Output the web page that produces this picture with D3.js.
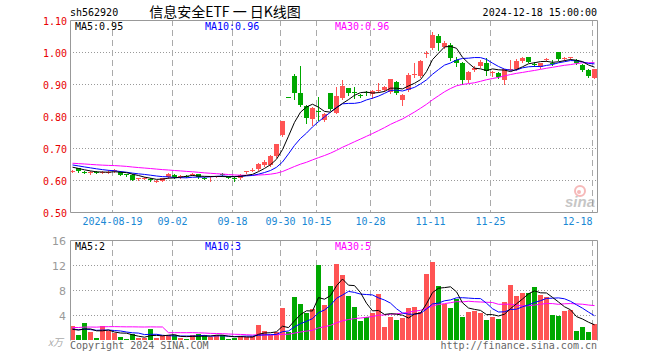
<!DOCTYPE html>
<html lang="zh">
<head>
<meta charset="utf-8">
<title>sh562920 日K线图</title>
<script src="https://cdn.jsdelivr.net/npm/d3@7/dist/d3.min.js"></script>
<style>
body { margin: 0; background: #fff; }
svg text { font-family: "DejaVu Sans Mono", monospace; font-size: 10px; }
.grid-h { stroke: #999; stroke-dasharray: 1,2; }
.grid-v { stroke: #aaa; stroke-dasharray: 6,4; }
.frame { stroke: #999; fill: none; }
</style>
</head>
<body>
<div id="chart"></div>
<script>
"use strict";

// trading days shown
var dates = [
  "2024-08-08","2024-08-09","2024-08-12","2024-08-13","2024-08-14","2024-08-15","2024-08-16",
  "2024-08-19","2024-08-20","2024-08-21","2024-08-22","2024-08-23",
  "2024-08-26","2024-08-27","2024-08-28","2024-08-29","2024-08-30",
  "2024-09-02","2024-09-03","2024-09-04","2024-09-05","2024-09-06",
  "2024-09-09","2024-09-10","2024-09-11","2024-09-12","2024-09-13",
  "2024-09-18","2024-09-19","2024-09-20",
  "2024-09-23","2024-09-24","2024-09-25","2024-09-26","2024-09-27",
  "2024-09-30",
  "2024-10-08","2024-10-09","2024-10-10","2024-10-11",
  "2024-10-14","2024-10-15","2024-10-16","2024-10-17","2024-10-18",
  "2024-10-21","2024-10-22","2024-10-23","2024-10-24","2024-10-25",
  "2024-10-28","2024-10-29","2024-10-30","2024-10-31","2024-11-01",
  "2024-11-04","2024-11-05","2024-11-06","2024-11-07","2024-11-08",
  "2024-11-11","2024-11-12","2024-11-13","2024-11-14","2024-11-15",
  "2024-11-18","2024-11-19","2024-11-20","2024-11-21","2024-11-22",
  "2024-11-25","2024-11-26","2024-11-27","2024-11-28","2024-11-29",
  "2024-12-02","2024-12-03","2024-12-04","2024-12-05","2024-12-06",
  "2024-12-09","2024-12-10","2024-12-11","2024-12-12","2024-12-13",
  "2024-12-16","2024-12-17","2024-12-18"
];

var open = [
  .626,.636,.626,.622,.626,.623,.624,.628,.625,.618,
  .616,.602,.604,.603,.595,.598,.608,.617,.608,.613,
  .617,.618,.607,.609,.610,.619,.609,.607,.605,.624,
  .629,.634,.648,.648,.676,.741,.860,.925,.873,.831,
  .790,.816,.788,.871,.810,.855,.887,.875,.867,.874,
  .868,.879,.881,.876,.907,.850,.881,.929,.925,.994,
  1.011,1.051,1.015,1.023,.975,.965,.912,.944,.956,.967,
  .936,.935,.912,.945,.946,.973,.983,.964,.952,.975,
  .967,.999,.978,.981,.975,.959,.944,.920
];
var high = [
  .632,.637,.628,.627,.628,.629,.630,.635,.627,.620,
  .618,.607,.608,.605,.600,.606,.622,.619,.615,.615,
  .622,.619,.609,.613,.614,.621,.611,.609,.619,.629,
  .636,.652,.662,.677,.714,.785,.860,.930,.956,.835,
  .828,.860,.808,.873,.892,.912,.889,.890,.868,.877,
  .880,.904,.893,.917,.910,.869,.934,.965,.975,1.003,
  1.062,1.056,1.033,1.027,.985,.968,.942,.956,.975,.980,
  .942,.937,.948,.975,.978,.985,.985,.970,.967,.982,
  .974,1.001,.983,.985,.977,.961,.946,.948
];
var low = [
  .624,.626,.621,.620,.621,.621,.622,.626,.615,.613,
  .599,.600,.602,.596,.593,.597,.607,.607,.606,.609,
  .615,.607,.603,.598,.608,.614,.605,.596,.603,.621,
  .627,.632,.645,.645,.673,.738,.860,.852,.831,.777,
  .771,.788,.783,.818,.808,.852,.866,.856,.858,.866,
  .856,.874,.878,.872,.868,.834,.878,.922,.922,.985,
  1.008,1.006,1.011,.975,.955,.900,.905,.940,.953,.928,
  .925,.920,.900,.943,.944,.968,.968,.956,.950,.972,
  .960,.976,.974,.979,.963,.942,.923,.918
];
var close = [
  .629,.628,.624,.624,.623,.625,.626,.631,.617,.616,
  .601,.605,.606,.600,.598,.605,.620,.609,.613,.611,
  .619,.609,.605,.611,.612,.617,.607,.605,.617,.627,
  .632,.650,.655,.675,.712,.783,.860,.871,.834,.793,
  .826,.814,.805,.822,.862,.894,.873,.872,.864,.871,
  .878,.881,.890,.915,.871,.866,.928,.931,.972,.997,
  1.053,1.028,1.029,.981,.967,.912,.937,.951,.970,.940,
  .938,.923,.946,.947,.973,.980,.970,.962,.965,.977,
  .965,.978,.980,.983,.965,.944,.925,.946
];
// volume, unit x万
var volume = [
  2.24,0.8,2.72,1.28,0.32,2.24,1.44,1.12,0.48,0.16,
  0.96,0.32,0.32,1.76,0.32,0.64,0.8,0.8,0.32,0.16,
  0.8,0.96,0.8,0.48,0.8,0.8,0.16,0.32,0.64,0.53,
  0.64,2.4,1.44,0.8,1.28,5.12,1.28,6.88,5.76,4.32,
  4.96,12.0,5.6,8.64,12.16,10.4,7.04,5.28,3.04,3.63,
  4.32,7.36,2.08,3.68,3.2,3.52,5.12,5.28,4.48,10.56,
  12.48,8.64,5.76,5.12,6.56,3.68,4.48,4.64,4.32,3.2,
  3.68,3.36,6.08,8.8,7.04,7.52,7.52,8.48,7.2,6.9,
  4.0,3.84,4.64,4.8,1.44,2.08,1.28,2.56
];

// the 29 sessions before 08-08 (estimated) - only feed the moving averages
var priorClose = [
  .662,.658,.665,.660,.656,.650,.648,.652,.657,.661,
  .655,.650,.646,.651,.655,.658,.654,.650,.657,.655,
  .658,.656,.653,.652,.651,.648,.645,.641,.637
];
var priorVolume = [
  0.9,0.7,1.0,0.8,0.6,0.9,0.8,1.1,0.7,0.9,0.8,0.7,1.0,0.8,0.8,
  28.3,0.5,0.3,0.4,0.4,
  2.0,1.6,2.2,1.5,1.8,
  1.4,1.9,1.2,1.8
];

var priceTicks = [0.5, 0.6, 0.7, 0.8, 0.9, 1.0, 1.1];
var volTicks = [4, 8, 12, 16];
var dateTicks = ["2024-08-19","2024-09-02","2024-09-18","2024-09-30","2024-10-15",
                 "2024-10-28","2024-11-11","2024-11-25","2024-12-18"];

var RED = "#ff5454", GREEN = "#00a800";
var maColors = {5: "#000", 10: "#0000ff", 30: "#ff00ff"};

function movingAvg(values, prior, n) {
  var all = prior.concat(values);
  return values.map(function(v, i) {
    var end = prior.length + i;
    var s = 0;
    for (var k = end - n + 1; k <= end; k++) s += all[k];
    return s / n;
  });
}
function trunc(v, d) { var p = Math.pow(10, d); return Math.floor(v * p + 1e-9) / p; }

var width = 660, height = 360;
var left = 70, right = 597;
var kTop = 20, kBottom = 212, vTop = 240, vBottom = 340;

var svg = d3.select("#chart").append("svg")
    .attr("width", width)
    .attr("height", height);

var x = d3.scaleBand().domain(dates).range([left, left + 6 * dates.length]);
var yK = d3.scaleLinear().domain([0.5, 1.1]).range([kBottom, kTop]);
var yV = d3.scaleLinear().domain([0, 16]).range([vBottom, vTop]);

var bars = dates.map(function(d, i) {
  return {date: d, o: open[i], h: high[i], l: low[i], c: close[i], v: volume[i],
          up: close[i] > open[i]};
});

// grid
var grid = svg.append("g");
grid.selectAll(".gk").data(priceTicks.filter(function(t){ return t > 0.55 && t < 1.05; }))
  .enter().append("line").attr("class", "grid-h")
  .attr("x1", left).attr("x2", right)
  .attr("y1", function(t){ return Math.round(yK(t)) + 0.5; })
  .attr("y2", function(t){ return Math.round(yK(t)) + 0.5; });
grid.selectAll(".gv").data(volTicks.filter(function(t){ return t < 16; }))
  .enter().append("line").attr("class", "grid-h")
  .attr("x1", left).attr("x2", right)
  .attr("y1", function(t){ return Math.round(yV(t)) + 0.5; })
  .attr("y2", function(t){ return Math.round(yV(t)) + 0.5; });
[[kTop, kBottom], [vTop, vBottom]].forEach(function(r) {
  grid.selectAll(null).data(dateTicks).enter().append("line").attr("class", "grid-v")
    .attr("x1", function(d){ return x(d) + 0.5; })
    .attr("x2", function(d){ return x(d) + 0.5; })
    .attr("y1", r[0]).attr("y2", r[1]);
});

// sina watermark
var logo = svg.append("g").attr("opacity", 0.55);
logo.append("circle").attr("cx", 580).attr("cy", 191).attr("r", 5)
  .attr("fill", "none").attr("stroke", "#f08080").attr("stroke-width", 2);
logo.append("circle").attr("cx", 579).attr("cy", 192).attr("r", 2).attr("fill", "#f08080");
logo.append("text").attr("x", 565).attr("y", 207)
  .style("font-family", "Liberation Sans, sans-serif").style("font-size", "15px")
  .style("font-style", "italic").style("font-weight", "bold")
  .attr("fill", "#999").text("sina");

// candles
var candle = svg.append("g").selectAll("g").data(bars).enter().append("g");
candle.append("line")
  .attr("x1", function(d){ return x(d.date) + 2.5; })
  .attr("x2", function(d){ return x(d.date) + 2.5; })
  .attr("y1", function(d){ return Math.round(yK(d.h)); })
  .attr("y2", function(d){ return Math.round(yK(d.l)) + 1; })
  .attr("stroke", function(d){ return d.up ? RED : GREEN; });
candle.append("rect")
  .attr("x", function(d){ return x(d.date); })
  .attr("width", 5)
  .attr("y", function(d){ return Math.round(yK(Math.max(d.o, d.c))); })
  .attr("height", function(d){
    return Math.max(1, Math.round(yK(Math.min(d.o, d.c))) - Math.round(yK(Math.max(d.o, d.c))));
  })
  .attr("fill", function(d){ return d.up ? RED : GREEN; });

// volume bars
svg.append("g").selectAll("rect").data(bars).enter().append("rect")
  .attr("x", function(d){ return x(d.date); })
  .attr("width", 5)
  .attr("y", function(d){ return Math.round(yV(d.v)); })
  .attr("height", function(d){ return vBottom - Math.round(yV(d.v)); })
  .attr("fill", function(d){ return d.up ? RED : GREEN; });

// moving averages
var maK = {}, maV = {};
[5, 10, 30].forEach(function(n) {
  maK[n] = movingAvg(close, priorClose, n);
  maV[n] = movingAvg(volume, priorVolume, n);
});
[30, 10, 5].forEach(function(n) {
  var lineK = d3.line()
    .x(function(v, i){ return x(dates[i]) + 2.5; })
    .y(function(v){ return yK(v); });
  var lineV = d3.line()
    .x(function(v, i){ return x(dates[i]) + 2.5; })
    .y(function(v){ return yV(v); });
  svg.append("path").attr("d", lineK(maK[n])).attr("fill", "none")
    .attr("stroke", maColors[n]).attr("stroke-width", 1);
  svg.append("path").attr("d", lineV(maV[n])).attr("fill", "none")
    .attr("stroke", maColors[n]).attr("stroke-width", 1);
});

// frames
var fr = svg.append("g").attr("class", "frame");
fr.append("path").attr("d",
  "M" + (left + 0.5) + "," + (kBottom + 0.5) + "V" + (kTop + 0.5) + "H" + (right + 0.5) +
  "V" + (kBottom + 0.5) + "H" + (left + 0.5));
fr.append("path").attr("d",
  "M" + (left + 0.5) + "," + (vBottom + 0.5) + "V" + (vTop + 0.5) + "H" + (right + 0.5) +
  "V" + (vBottom + 0.5));

// price axis labels
svg.append("g").selectAll("text").data(priceTicks).enter().append("text")
  .attr("x", 67).attr("y", function(t){ return yK(t) + 1; })
  .attr("dy", "0.35em").attr("text-anchor", "end").attr("fill", "#e80000")
  .text(function(t){ return t.toFixed(2); });
// volume axis labels
svg.append("g").selectAll("text").data(volTicks).enter().append("text")
  .attr("x", 66).attr("y", function(t){ return yV(t) + 1; })
  .attr("dy", "0.35em").attr("text-anchor", "end").attr("fill", "#999")
  .style("font-family", "DejaVu Sans, sans-serif").style("font-size", "11px")
  .text(function(t){ return t; });
svg.append("text").attr("x", 63).attr("y", 346).attr("text-anchor", "end")
  .attr("fill", "#aaa").style("font-family", "Noto Sans CJK SC, sans-serif")
  .style("font-size", "10px").style("font-style", "italic").text("x万");

// date labels
svg.append("g").selectAll("text").data(dateTicks).enter().append("text")
  .attr("x", function(d){ return x(d) + 0.5; })
  .attr("y", 225)
  .attr("text-anchor", function(d, i){ return i === dateTicks.length - 1 ? "end" : "middle"; })
  .attr("fill", "#1a88d4")
  .text(function(d, i){ return i === 0 ? d : d.slice(5); });

// MA legends
function legend(y, vals, fmt) {
  [[5, 75], [10, 205], [30, 335]].forEach(function(p) {
    svg.append("text").attr("x", p[0] === 5 ? 75 : p[1]).attr("y", y)
      .attr("fill", maColors[p[0]])
      .text("MA" + p[0] + ":" + fmt(vals[p[0]][vals[p[0]].length - 1]));
  });
}
legend(30, maK, function(v){ return trunc(v, 2).toFixed(2); });
legend(250, maV, function(v){ return String(Math.floor(v)); });

// header
svg.append("text").attr("x", 70).attr("y", 16).attr("fill", "#000").text("sh562920");
svg.append("text").attr("x", 225).attr("y", 17).attr("text-anchor", "middle")
  .style("font-family", "Noto Sans CJK SC, sans-serif").style("font-size", "14px")
  .attr("fill", "#000").text("信息安全ETF 一 日K线图");
svg.append("text").attr("x", 597).attr("y", 16).attr("text-anchor", "end")
  .attr("fill", "#000").text("2024-12-18 15:00:00");

// footer
svg.append("text").attr("x", 70).attr("y", 349).attr("fill", "#666").text("Copyright 2024 SINA.COM");
svg.append("text").attr("x", 597).attr("y", 349).attr("text-anchor", "end")
  .attr("fill", "#666").text("http://finance.sina.com.cn");
</script>
</body>
</html>
